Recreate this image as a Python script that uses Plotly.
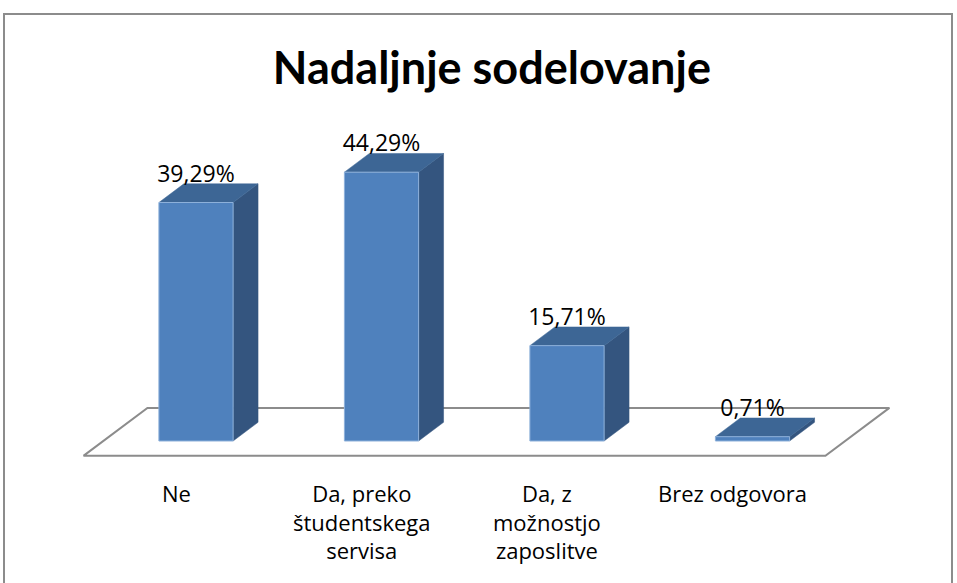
import plotly.graph_objects as go

# data
categories = ["Ne", "Da, preko<br>študentskega<br>servisa", "Da, z<br>možnostjo<br>zaposlitve", "Brez odgovora"]
values = [39.29, 44.29, 15.71, 0.71]

# 3d look settings (data units)
BAR_W = 0.4
DEPTH_X = 0.345      # full floor depth, x shift
DEPTH_Y = 7.9        # full floor depth, y shift
BAR_START = 0.31     # where the bar front sits inside the floor depth
BAR_DEPTH = 0.39     # bar depth as share of floor depth

FRONT = "#4F81BD"
SIDE = "#34557F"
TOP = "#3D6695"
FLOOR = "#8C8C8C"

ddx = BAR_DEPTH * DEPTH_X
ddy = BAR_DEPTH * DEPTH_Y
fx = BAR_START * DEPTH_X
fy = BAR_START * DEPTH_Y
n = len(values)

fig = go.Figure()

# floor outline
left, right = -0.5 - fx, n - 0.5 - fx
floor_x = [left, right, right + DEPTH_X, left + DEPTH_X, left]
floor_y = [-fy, -fy, -fy + DEPTH_Y, -fy + DEPTH_Y, -fy]
fig.add_trace(go.Scatter(x=floor_x, y=floor_y, mode="lines",
                         line=dict(color=FLOOR, width=2), fill="toself",
                         fillcolor="white", hoverinfo="skip"))

front_x, front_y, side_x, side_y, top_x, top_y = [], [], [], [], [], []
for i, v in enumerate(values):
    l, r = i - BAR_W / 2, i + BAR_W / 2
    front_x += [l, r, r, l, l, None]
    front_y += [0, 0, v, v, 0, None]
    side_x += [r, r + ddx, r + ddx, r, r, None]
    side_y += [0, ddy, v + ddy, v, 0, None]
    top_x += [l, r, r + ddx, l + ddx, l, None]
    top_y += [v, v, v + ddy, v + ddy, v, None]

fig.add_trace(go.Scatter(x=side_x, y=side_y, mode="lines", fill="toself",
                         fillcolor=SIDE, line=dict(color=SIDE, width=0.5), hoverinfo="skip"))
fig.add_trace(go.Scatter(x=top_x, y=top_y, mode="lines", fill="toself",
                         fillcolor=TOP, line=dict(color=TOP, width=0.5), hoverinfo="skip"))
fig.add_trace(go.Scatter(x=front_x, y=front_y, mode="lines", fill="toself",
                         fillcolor=FRONT, line=dict(color="#8DB0DA", width=1), hoverinfo="skip"))

# value labels
labels = [f"{v:.2f}".replace(".", ",") + "%" for v in values]
fig.add_trace(go.Scatter(x=list(range(n)), y=[v + 4.4 for v in values], mode="text",
                         text=labels, textposition="middle center",
                         textfont=dict(family="Open Sans", size=23, color="black"),
                         hoverinfo="skip"))

# category labels under the floor
for i, c in enumerate(categories):
    fig.add_annotation(x=i - fx, y=-5.8, xref="x", yref="y", text=c, showarrow=False,
                       yanchor="top", xanchor="center", align="center",
                       font=dict(family="Open Sans", size=22, color="black"))

# chart frame
fig.add_shape(type="rect", xref="paper", yref="paper", x0=4 / 957, x1=952 / 957,
              y0=-0.05, y1=1 - 14 / 583, line=dict(color="#8C8C8C", width=2))

fig.update_layout(
    width=957, height=583,
    margin=dict(l=0, r=0, t=0, b=0),
    paper_bgcolor="white", plot_bgcolor="white",
    showlegend=False,
    title=dict(text="<b>Nadaljnje sodelovanje</b>", x=0.514, xanchor="center",
               y=1 - 68 / 583, yanchor="middle",
               font=dict(family="Lato", size=45, color="black")),
    xaxis=dict(range=[-196 / 185.5, 761 / 185.5], visible=False, fixedrange=True),
    yaxis=dict(range=[-142 / 6.07, 441 / 6.07], visible=False, fixedrange=True),
)

fig.write_html("out.html", config={"displayModeBar": False},
               post_script="document.body.style.margin = '0';")
